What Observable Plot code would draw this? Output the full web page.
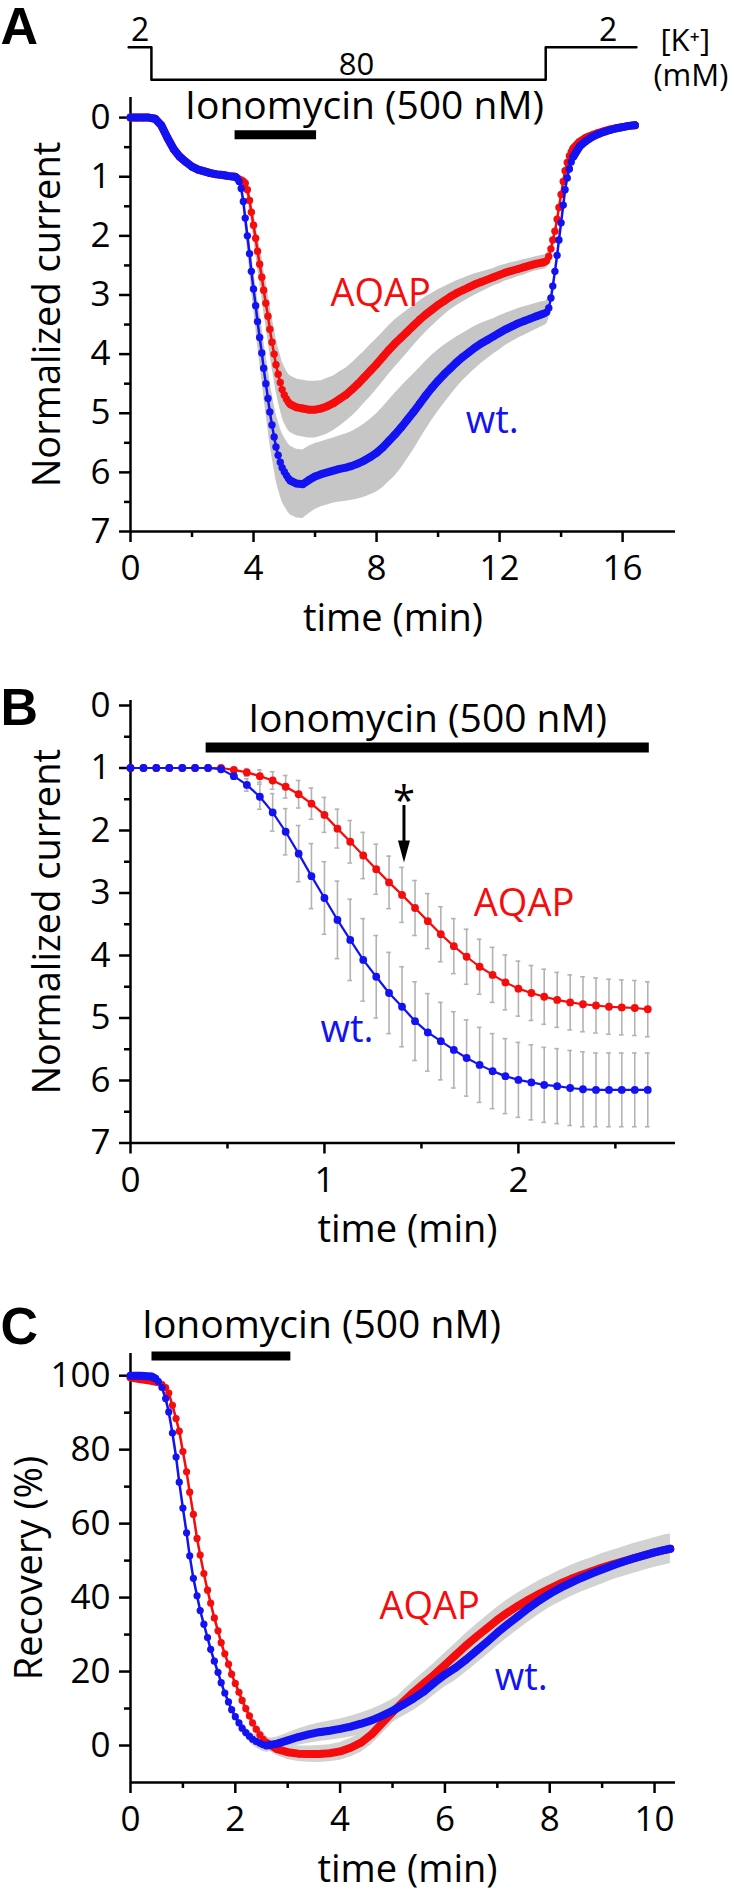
<!DOCTYPE html>
<html><head><meta charset="utf-8">
<script src="https://cdn.jsdelivr.net/npm/d3@7"></script>
<script src="https://cdn.jsdelivr.net/npm/@observablehq/plot@0.6"></script>
<style>
body{margin:0;background:#fff;}
#root{width:750px;}
#root svg{display:block;}
</style></head><body><div id="root"></div>
<script>
// ---------- Panel A data ----------
const tA = [0,0.2,0.4,0.6,0.8,1,1.2,1.4,1.6,1.8,2,2.2,2.4,2.6,2.8,3,3.2,3.4,
3.47,3.53,3.6,3.67,3.73,3.8,3.87,3.93,4,4.07,4.13,4.2,4.27,4.33,4.4,4.47,4.53,4.6,4.67,4.73,4.8,4.87,4.93,5,5.07,5.13,5.2,
5.4,5.6,5.8,6,6.2,6.4,6.6,6.8,7,7.2,7.4,7.6,7.8,8,8.2,8.4,8.6,8.8,9,9.2,9.4,9.6,9.8,10,10.2,10.4,10.6,10.8,11,11.2,11.4,11.6,11.8,12,12.2,12.4,12.6,12.8,13,13.2,13.4,
13.47,13.53,13.6,13.67,13.73,13.8,13.87,13.93,14,14.07,14.13,14.2,14.27,14.33,14.4,
14.6,14.8,15,15.2,15.4,15.6,15.8,16,16.2,16.4];
const wtA = [0,0,0,0,0.02,0.13,0.34,0.53,0.66,0.75,0.83,0.88,0.91,0.94,0.96,0.97,0.99,1.0,
1.03,1.08,1.2,1.42,1.7,2.0,2.3,2.6,2.9,3.18,3.45,3.72,3.98,4.24,4.5,4.75,4.98,5.2,5.4,5.57,5.71,5.83,5.92,5.99,6.05,6.1,6.14,
6.19,6.2,6.13,6.07,6.03,6.0,5.97,5.94,5.92,5.89,5.85,5.8,5.74,5.67,5.58,5.47,5.36,5.24,5.11,4.98,4.84,4.7,4.57,4.45,4.34,4.24,4.14,4.05,3.97,3.89,3.82,3.76,3.7,3.64,3.58,3.53,3.48,3.44,3.4,3.36,3.32,
3.31,3.29,3.22,3.05,2.85,2.6,2.33,2.07,1.78,1.48,1.22,1.02,0.87,0.75,0.66,
0.49,0.4,0.33,0.28,0.24,0.21,0.18,0.16,0.14,0.13];
const aqapA = [0,0,0,0,0.02,0.13,0.34,0.53,0.66,0.75,0.83,0.88,0.91,0.94,0.96,0.97,0.99,1.0,
1.02,1.04,1.06,1.08,1.11,1.22,1.4,1.6,1.82,2.04,2.26,2.48,2.7,2.92,3.14,3.36,3.58,3.8,4.0,4.18,4.34,4.48,4.6,4.69,4.76,4.81,4.85,
4.9,4.92,4.94,4.94,4.92,4.88,4.83,4.76,4.69,4.6,4.5,4.39,4.28,4.17,4.05,3.93,3.82,3.72,3.62,3.52,3.42,3.33,3.25,3.17,3.1,3.03,2.97,2.92,2.87,2.82,2.78,2.74,2.7,2.66,2.62,2.59,2.56,2.53,2.5,2.47,2.45,
2.44,2.42,2.35,2.22,2.07,1.92,1.72,1.52,1.3,1.08,0.9,0.76,0.65,0.58,0.52,
0.41,0.34,0.3,0.26,0.23,0.2,0.18,0.16,0.14,0.13];
const sdWtA = [0,0,0,0,0,0,0,0,0,0,0,0,0,0,0,0,0,0,
0.03,0.06,0.1,0.14,0.18,0.22,0.26,0.3,0.33,0.36,0.39,0.42,0.45,0.47,0.49,0.51,0.53,0.54,0.55,0.56,0.57,0.57,0.58,0.58,0.58,0.58,0.58,
0.58,0.58,0.57,0.56,0.55,0.55,0.55,0.56,0.57,0.58,0.6,0.62,0.64,0.66,0.68,0.69,0.7,0.69,0.67,0.64,0.61,0.58,0.55,0.52,0.49,0.46,0.43,0.4,0.38,0.36,0.34,0.32,0.3,0.29,0.27,0.26,0.25,0.24,0.23,0.22,0.21,
0.2,0.2,0.19,0,0,0,0,0,0,0,0,0,0,0,0,
0,0,0,0,0,0,0,0,0,0];
const sdAqapA = [0,0,0,0,0,0,0,0,0,0,0,0,0,0,0,0,0,0,
0.02,0.04,0.06,0.08,0.1,0.13,0.16,0.19,0.22,0.25,0.28,0.31,0.34,0.36,0.38,0.4,0.42,0.43,0.44,0.45,0.46,0.47,0.47,0.48,0.48,0.48,0.48,
0.48,0.48,0.48,0.48,0.47,0.47,0.46,0.46,0.45,0.45,0.45,0.44,0.44,0.43,0.42,0.41,0.4,0.38,0.36,0.34,0.32,0.3,0.28,0.26,0.24,0.22,0.21,0.2,0.19,0.18,0.17,0.16,0.15,0.15,0.14,0.14,0.13,0.13,0.12,0.12,0.12,
0.12,0.12,0.12,0,0,0,0,0,0,0,0,0,0,0,0,
0,0,0,0,0,0,0,0,0,0];
// [K+] protocol (mM) and the times where it changes
const kTimes = [-0.06, 0.68, 13.5, 16.45];
const kConc = [2, 80, 2, 2];
const ionoA = [3.4, 6.05];

// ---------- Panel B data ----------
const tB = [0,0.067,0.133,0.2,0.267,0.333,0.4,0.467,0.533,0.6,0.667,0.733,0.8,0.867,0.933,1,1.067,1.133,1.2,1.267,1.333,1.4,1.467,1.533,1.6,1.667,1.733,1.8,1.867,1.933,2,2.067,2.133,2.2,2.267,2.333,2.4,2.467,2.533,2.6,2.667];
const wtB = [1,1,1,1,1,1,1,1.02,1.13,1.27,1.46,1.71,2.02,2.37,2.73,3.08,3.43,3.75,4.07,4.34,4.6,4.82,5.05,5.23,5.37,5.51,5.64,5.75,5.85,5.93,5.99,6.03,6.07,6.09,6.12,6.14,6.15,6.15,6.15,6.15,6.15];
const aqapB = [1,1,1,1,1,1,1,1,1.03,1.07,1.13,1.2,1.3,1.42,1.57,1.75,1.97,2.18,2.4,2.62,2.83,3.03,3.24,3.45,3.66,3.85,4.02,4.18,4.31,4.43,4.53,4.6,4.66,4.71,4.75,4.78,4.8,4.82,4.83,4.84,4.86];
const sdWtB = [0,0,0,0,0,0,0,0.03,0.05,0.1,0.2,0.3,0.37,0.45,0.52,0.58,0.62,0.65,0.66,0.66,0.65,0.64,0.63,0.62,0.62,0.61,0.61,0.6,0.6,0.6,0.6,0.6,0.6,0.6,0.6,0.6,0.59,0.59,0.59,0.59,0.59];
const sdAqapB = [0,0,0,0,0,0,0,0,0.03,0.06,0.1,0.14,0.18,0.22,0.25,0.28,0.31,0.34,0.37,0.4,0.42,0.44,0.44,0.44,0.44,0.44,0.44,0.44,0.44,0.44,0.44,0.44,0.44,0.44,0.44,0.44,0.44,0.44,0.44,0.44,0.44];
const ionoB = [0.39, 2.675];
const starB = 1.41;

// ---------- Panel C data ----------
const tC = [0,0.2,0.4,
0.47,0.53,0.6,0.67,0.73,0.8,0.87,0.93,1,1.07,1.13,1.2,1.27,1.33,1.4,1.47,1.53,1.6,1.67,1.73,1.8,1.87,1.93,2,2.07,2.13,2.2,2.27,2.33,2.4,2.47,2.53,2.6,
2.8,3,3.2,3.4,3.6,3.8,4,4.2,4.4,4.6,4.8,5,5.2,5.4,5.6,5.8,6,6.2,6.4,6.6,6.8,7,7.2,7.4,7.6,7.8,8,8.2,8.4,8.6,8.8,9,9.2,9.4,9.6,9.8,10,10.2,10.3];
const wtC = [100,100,99.8,
99.3,98.5,96.8,93.8,90.2,84.5,78,71.2,64.2,57.5,51.3,45.2,40.5,36.5,32.8,29.2,26,22.8,19.8,17,14.2,11.8,9.7,7.8,6.1,4.7,3.5,2.5,1.7,1.1,0.6,0.2,0,
0.5,1.4,2.3,3.0,3.6,4.0,4.5,5.1,5.9,6.8,8.0,9.4,11.0,12.7,14.6,17.0,19.2,21.0,23.2,25.6,28.0,30.5,32.8,35.0,37.2,39.2,41.0,42.6,44.0,45.3,46.5,47.6,48.7,49.7,50.6,51.4,52.2,52.9,53.2];
const aqapC = [99.5,99,98.6,
98.4,98.1,97.6,96.8,95.3,92,88.4,85,79.5,74,68.5,62.5,56,51.5,46.5,42,38.5,34.5,31,27.8,24.8,22,19.3,16.8,14.4,12.2,10,8,6.1,4.4,2.9,1.7,0.7,
-1.0,-1.8,-2.2,-2.3,-2.3,-2.1,-1.6,-0.6,0.8,3.0,6.0,9.0,11.8,14.4,16.8,19.2,21.8,24.4,27.0,29.4,31.7,34.0,36.0,37.8,39.5,41.0,42.4,43.8,45.0,46.1,47.1,48.1,49.0,49.8,50.6,51.4,52.2,52.9,53.2];
const sdWtC = [0,0,0,
0.3,0.5,0.8,1,1,1,1,1,1,1,1,1,1,1,1,1,1,1,1,1,1,1,1,1.1,1.2,1.3,1.4,1.5,1.6,1.7,1.8,1.8,1.8,
1.8,2.0,2.2,2.4,2.5,2.6,2.7,2.8,2.9,3.0,3.0,3.1,3.1,3.2,3.2,3.3,3.3,3.4,3.4,3.5,3.5,3.6,3.6,3.6,3.7,3.7,3.7,3.8,3.8,3.8,3.9,3.9,3.9,4.0,4.0,4.0,4.0,4.0,4.0];
const sdAqapC = [0,0,0,
0.3,0.5,0.8,1,1,1,1,1,1,1,1,1,1,1,1,1,1,1,1,1,1,1,1,1.1,1.2,1.3,1.4,1.5,1.6,1.7,1.8,1.8,1.8,
1.8,2.0,2.1,2.2,2.3,2.3,2.4,2.5,2.6,2.7,2.8,2.9,3.0,3.0,3.1,3.1,3.2,3.2,3.3,3.3,3.4,3.4,3.5,3.5,3.5,3.6,3.6,3.6,3.7,3.7,3.7,3.8,3.8,3.8,3.9,3.9,3.9,4.0,4.0];
const ionoC = [0.41, 3.06];

// ---------- shared ----------
const LABEL_IONO = "Ionomycin (500 nM)";
const RED = "#f50c0c", BLUE = "#1212f2", BAND = "#c6c6c6", BANDC = "#d2d2d2", ERR = "#b3b3b3";
const FONT = "'Open Sans', sans-serif";
const LETTER_FONT = "'Liberation Sans', Arial, sans-serif";

function rows(t, wt, aq, sw, sa) {
  return t.map((d, i) => ({t: d, wt: wt[i], aq: aq[i], sw: sw[i], sa: sa[i]}));
}
function axes(o) {
  return [
    Plot.ruleX([o.x0], {y1: o.yTop, y2: o.yBottom, strokeWidth: 2.5}),
    Plot.ruleY([o.yBottom], {x1: o.x0, x2: o.x1, strokeWidth: 2.5}),
    Plot.axisY({ticks: o.yMinor, tickSize: 6, tickFormat: () => "", strokeWidth: 2.5, label: null}),
    Plot.axisY({ticks: o.yMajor, tickSize: 11, tickPadding: 9, fontSize: 35, tickFormat: d => String(d), strokeWidth: 2.5, label: null}),
    Plot.axisX({ticks: o.xMinor, tickSize: 6, tickFormat: () => "", strokeWidth: 2.5, label: null}),
    Plot.axisX({ticks: o.xMajor, tickSize: 11, tickPadding: 13, fontSize: 35, tickFormat: d => String(d), strokeWidth: 2.5, label: null})
  ];
}
function series(data, key, color, {r, thin, thick, slow}) {
  const m = [Plot.line(data, {x: "t", y: key, stroke: color, strokeWidth: thin})];
  for (const [a, b] of slow) {
    m.push(Plot.line(data.filter(d => d.t >= a && d.t <= b), {x: "t", y: key, stroke: color, strokeWidth: thick, strokeLinecap: "round", strokeLinejoin: "round"}));
  }
  m.push(Plot.dot(data, {x: "t", y: key, r, fill: color}));
  return m;
}
function letter(ch, dx, dy) {
  return Plot.text([ch], {frameAnchor: "top-left", dx, dy, textAnchor: "start", lineAnchor: "bottom",
    fontSize: 52, fontWeight: "bold", fontFamily: LETTER_FONT});
}
function yTitle(txt, dx) {
  return Plot.text([txt], {frameAnchor: "left", dx, rotate: -90, textAnchor: "middle", lineAnchor: "middle", fontSize: 38});
}
function xTitle(dx) {
  return Plot.text(["time (min)"], {frameAnchor: "bottom", dx, dy: 87, textAnchor: "middle", lineAnchor: "middle", fontSize: 38});
}
const root = document.getElementById("root");

// ---------- Panel A ----------
{
  const data = rows(tA, wtA, aqapA, sdWtA, sdAqapA);
  const kRows = kTimes.map((t, i) => ({t, c: kConc[i]}));
  const kY = c => (c <= 2 ? -1.19 : -0.64);
  const segMid = (a, b) => (a + b) / 2;
  const slowA = [[0, 3.4], [5.2, 13.4], [14.4, 16.4]];
  const plot = Plot.plot({
    width: 750, height: 650,
    marginLeft: 130, marginRight: 75, marginTop: 97, marginBottom: 119,
    style: {fontFamily: FONT, background: "white", overflow: "visible"},
    x: {domain: [0, 17.72], label: null},
    y: {domain: [-0.34, 7], reverse: true, label: null},
    marks: [
      ...axes({x0: 0, x1: 17.72, yTop: -0.34, yBottom: 7, yMajor: [0,1,2,3,4,5,6,7], yMinor: [0.5,1.5,2.5,3.5,4.5,5.5,6.5], xMajor: [0,4,8,12,16], xMinor: [2,6,10,14]}),
      Plot.areaY(data.filter(d => d.sw > 0), {x: "t", y1: d => d.wt - d.sw, y2: d => d.wt + d.sw, fill: BAND}),
      Plot.areaY(data.filter(d => d.sa > 0), {x: "t", y1: d => d.aq - d.sa, y2: d => d.aq + d.sa, fill: BAND}),
      ...series(data, "aq", RED, {r: 3.7, thin: 2.5, thick: 8, slow: slowA}),
      ...series(data, "wt", BLUE, {r: 3.7, thin: 2.5, thick: 8, slow: slowA}),
      // [K+] protocol
      Plot.line(kRows, {x: "t", y: d => kY(d.c), curve: "step-after", stroke: "black", strokeWidth: 2.5}),
      Plot.text([String(kConc[0])], {x: segMid(kTimes[0], kTimes[1]), y: kY(kConc[0]), dy: -6, lineAnchor: "bottom", fontSize: 32}),
      Plot.text([String(kConc[1])], {x: segMid(kTimes[1], kTimes[2]), y: kY(kConc[1]), dx: 8, dy: -5, lineAnchor: "bottom", fontSize: 31}),
      Plot.text([String(kConc[2])], {x: segMid(kTimes[2], kTimes[3]), y: kY(kConc[2]), dx: 17, dy: -6, lineAnchor: "bottom", fontSize: 32}),
      Plot.text(["[K\u207A]"], {x: kTimes[3], y: kY(kConc[3]), dx: 24, dy: 4, textAnchor: "start", lineAnchor: "bottom", fontSize: 31}),
      Plot.text(["(mM)"], {x: kTimes[3], y: kY(kConc[3]), dx: 17, dy: 39, textAnchor: "start", lineAnchor: "bottom", fontSize: 31}),
      // ionomycin
      Plot.ruleY([0.29], {x1: ionoA[0], x2: ionoA[1], strokeWidth: 9}),
      Plot.text([LABEL_IONO], {x: ionoA[0], y: 0.29, dx: -50, dy: -16, textAnchor: "start", lineAnchor: "bottom", fontSize: 39}),
      // labels
      Plot.text(["AQAP"], {x: 6.5, y: 3.19, textAnchor: "start", lineAnchor: "bottom", fill: RED, fontSize: 38}),
      Plot.text(["wt."], {x: 10.9, y: 5.34, textAnchor: "start", lineAnchor: "bottom", fill: BLUE, fontSize: 38}),
      yTitle("Normalized current", -83),
      xTitle(-10),
      letter("A", -130, -54)
    ]
  });
  root.appendChild(plot);
}

// ---------- Panel B ----------
{
  const data = rows(tB, wtB, aqapB, sdWtB, sdAqapB);
  const errW = data.filter(d => d.sw > 0), errA = data.filter(d => d.sa > 0);
  const cap = 0.012;
  const errMarks = (arr, key, sdk) => [
    Plot.ruleX(arr, {x: "t", y1: d => d[key] - d[sdk], y2: d => d[key] + d[sdk], stroke: ERR, strokeWidth: 1.6}),
    Plot.ruleY(arr, {y: d => d[key] - d[sdk], x1: d => d.t - cap, x2: d => d.t + cap, stroke: ERR, strokeWidth: 1.6}),
    Plot.ruleY(arr, {y: d => d[key] + d[sdk], x1: d => d.t - cap, x2: d => d.t + cap, stroke: ERR, strokeWidth: 1.6})
  ];
  const plot = Plot.plot({
    width: 750, height: 612,
    marginLeft: 130, marginRight: 75, marginTop: 50, marginBottom: 119.5,
    style: {fontFamily: FONT, background: "white", overflow: "visible"},
    x: {domain: [0, 2.81], label: null},
    y: {domain: [-0.08, 7], reverse: true, label: null},
    marks: [
      ...axes({x0: 0, x1: 2.81, yTop: -0.08, yBottom: 7, yMajor: [0,1,2,3,4,5,6,7], yMinor: [0.5,1.5,2.5,3.5,4.5,5.5,6.5], xMajor: [0,1,2], xMinor: [0.5,1.5,2.5]}),
      ...errMarks(errW, "wt", "sw"),
      ...errMarks(errA, "aq", "sa"),
      Plot.line(data, {x: "t", y: "aq", stroke: RED, strokeWidth: 2.2}),
      Plot.dot(data, {x: "t", y: "aq", r: 3.9, fill: RED}),
      Plot.line(data, {x: "t", y: "wt", stroke: BLUE, strokeWidth: 2.2}),
      Plot.dot(data, {x: "t", y: "wt", r: 3.9, fill: BLUE}),
      // ionomycin
      Plot.ruleY([0.67], {x1: ionoB[0], x2: ionoB[1], strokeWidth: 10}),
      Plot.text([LABEL_IONO], {x: ionoB[0], y: 0.67, dx: 42, dy: -15, textAnchor: "start", lineAnchor: "bottom", fontSize: 39}),
      // significance marker
      Plot.text(["*"], {x: starB, y: 1.29, lineAnchor: "top", fontSize: 40}),
      Plot.ruleX([starB], {y1: 1.6, y2: 2.2, strokeWidth: 3}),
      Plot.vector([0], {x: starB, y: 2.16, rotate: 180, length: 22, r: 6, shape: "spike", anchor: "start", fill: "black", stroke: "none"}),
      Plot.text(["AQAP"], {x: 1.77, y: 3.36, textAnchor: "start", lineAnchor: "bottom", fill: RED, fontSize: 38}),
      Plot.text(["wt."], {x: 0.98, y: 5.39, textAnchor: "start", lineAnchor: "bottom", fill: BLUE, fontSize: 38}),
      yTitle("Normalized current", -83),
      xTitle(4.5),
      letter("B", -130, 24)
    ]
  });
  root.appendChild(plot);
}

// ---------- Panel C ----------
{
  const data = rows(tC, wtC, aqapC, sdWtC, sdAqapC);
  const slowC = [[0, 0.47], [2.6, 10.3]];
  const plot = Plot.plot({
    width: 750, height: 632,
    marginLeft: 130, marginRight: 75, marginTop: 91, marginBottom: 112,
    style: {fontFamily: FONT, background: "white", overflow: "visible"},
    x: {domain: [0, 10.4], label: null},
    y: {domain: [-10, 106], label: null},
    marks: [
      ...axes({x0: 0, x1: 10.4, yTop: 106, yBottom: -10, yMajor: [0,20,40,60,80,100], yMinor: [10,30,50,70,90], xMajor: [0,2,4,6,8,10], xMinor: [1,3,5,7,9]}),
      Plot.areaY(data.filter(d => d.sw > 0), {x: "t", y1: d => d.wt - d.sw, y2: d => d.wt + d.sw, fill: BANDC}),
      Plot.areaY(data.filter(d => d.sa > 0), {x: "t", y1: d => d.aq - d.sa, y2: d => d.aq + d.sa, fill: BANDC}),
      ...series(data, "aq", RED, {r: 3.6, thin: 2.5, thick: 8, slow: slowC}),
      ...series(data, "wt", BLUE, {r: 3.6, thin: 2.5, thick: 8, slow: slowC}),
      Plot.ruleY([105.3], {x1: ionoC[0], x2: ionoC[1], strokeWidth: 9}),
      Plot.text([LABEL_IONO], {x: ionoC[0], y: 105.3, dx: -10, dy: -18, textAnchor: "start", lineAnchor: "bottom", fontSize: 39}),
      Plot.text(["AQAP"], {x: 4.75, y: 34.3, textAnchor: "start", lineAnchor: "bottom", fill: RED, fontSize: 38}),
      Plot.text(["wt."], {x: 6.95, y: 15, textAnchor: "start", lineAnchor: "bottom", fill: BLUE, fontSize: 38}),
      yTitle("Recovery (%)", -101),
      xTitle(4.5),
      letter("C", -130, -10)
    ]
  });
  root.appendChild(plot);
}
</script></body></html>
